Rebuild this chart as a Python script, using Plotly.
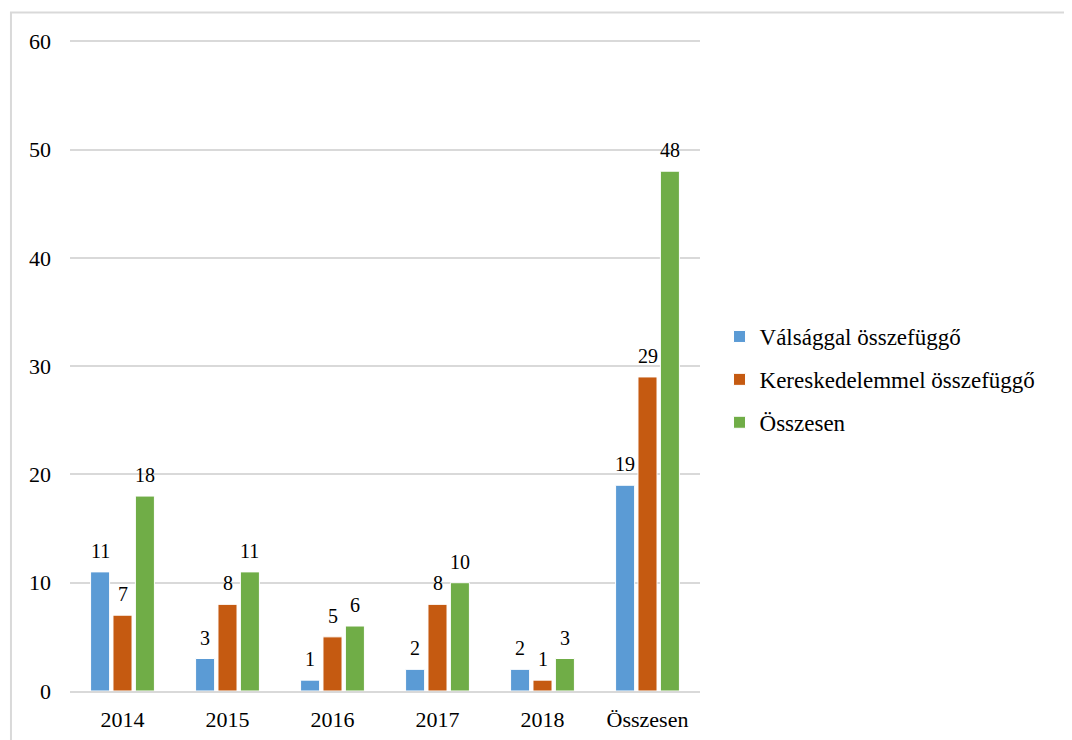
import plotly.graph_objects as go

categories = ["2014", "2015", "2016", "2017", "2018", "Összesen"]
valsag = [11, 3, 1, 2, 2, 19]
kereskedelem = [7, 8, 5, 8, 1, 29]
osszesen = [18, 11, 6, 10, 3, 48]

series = [
    ("Válsággal összefüggő", valsag, "#5B9BD5"),
    ("Kereskedelemmel összefüggő", kereskedelem, "#C55A11"),
    ("Összesen", osszesen, "#70AD47"),
]

FONT = "Liberation Serif"
BARGAP = 0.36
PLOT_W = 630
SLOT = round(PLOT_W / len(categories) * (1 - BARGAP) / len(series), 1)

fig = go.Figure()
annotations = []
for i, (name, vals, color) in enumerate(series):
    fig.add_trace(go.Bar(
        x=categories, y=vals, name=name, legendgroup=name,
        marker=dict(color=color, line=dict(color="white", width=1)),
    ))
    for j, v in enumerate(vals):
        # category axis index j corresponds to categories[j]
        annotations.append(dict(
            x=j, y=v, xref="x", yref="y", text=str(v), showarrow=False,
            xanchor="center", yanchor="bottom", xshift=(i - 1) * SLOT, yshift=8,
            font=dict(family=FONT, size=20, color="#000"),
        ))

fig.update_layout(
    width=1064, height=732,
    paper_bgcolor="white", plot_bgcolor="white",
    barmode="group", bargap=BARGAP, bargroupgap=0.15,
    margin=dict(l=62, r=372, t=30, b=49),
    font=dict(family=FONT, size=22, color="#000"),
    legend=dict(x=1.031, y=0.477, xanchor="left", yanchor="middle",
                font=dict(family=FONT, size=23, color="#000"),
                itemwidth=30, tracegroupgap=10, bgcolor="rgba(0,0,0,0)"),
    showlegend=True,
    annotations=annotations,
    shapes=[dict(type="rect", xref="paper", yref="paper",
                 x0=-0.0937, x1=2.0, y0=-1.0, y1=1.039,
                 line=dict(color="#d9d9d9", width=2), fillcolor="rgba(0,0,0,0)", layer="below")],
)
fig.update_yaxes(range=[0, 60.3], dtick=10, showgrid=True,
                 gridcolor="#d9d9d9", gridwidth=1.5, automargin=False,
                 zeroline=False, showline=False, ticks="", ticklabelstandoff=18,
                 tickfont=dict(family=FONT, size=22, color="#000"))
fig.update_xaxes(type="category", range=[-0.5, len(categories) - 0.5], automargin=False,
                 showline=True, linecolor="#d9d9d9", linewidth=1.5, ticks="",
                 ticklabelstandoff=8, tickfont=dict(family=FONT, size=22, color="#000"))

fig.write_html("out.html")
